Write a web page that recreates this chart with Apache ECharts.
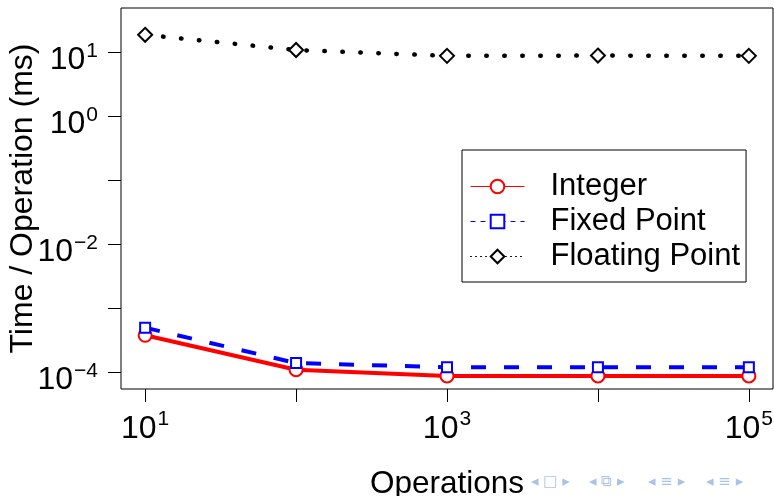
<!DOCTYPE html>
<html>
<head>
<meta charset="utf-8">
<script src="https://cdn.jsdelivr.net/npm/echarts@6/dist/echarts.min.js"></script>
<style>
html,body{margin:0;padding:0;background:#fff;}
#chart{width:774px;height:496px;}
</style>
</head>
<body>
<div id="chart"></div>
<script>
// Data
var operations = [10, 100, 1000, 10000, 100000];
var integerTimes = [3.8e-4, 1.1e-4, 8.8e-5, 8.8e-5, 8.8e-5];
var fixedTimes = [5.0e-4, 1.4e-4, 1.2e-4, 1.2e-4, 1.2e-4];
var floatingTimes = [19, 11, 8.9, 9.0, 8.9];
var seriesNames = ['Integer', 'Fixed Point', 'Floating Point'];
var xTickExponents = [1, 2, 3, 4, 5];
var xLabelExponents = [1, 3, 5];
var yTickExponents = [-4, -3, -2, -1, 0, 1];
var yLabelExponents = [-4, -2, 0, 1];

var FONT = '"Liberation Sans", Arial, Helvetica, sans-serif';

function pairs(xs, ys) {
  return xs.map(function (x, i) { return [Math.log10(x), Math.log10(ys[i])]; });
}
function powLabel(v) {
  var e = Math.round(v);
  var s = e < 0 ? '\u2212' + Math.abs(e) : String(e);
  return '{b|10}{s|' + s + '}';
}
var rich = {
  b: { fontSize: 32, fontFamily: FONT, color: '#000', lineHeight: 36, verticalAlign: 'bottom' },
  s: { fontSize: 21, fontFamily: FONT, color: '#000', lineHeight: 36, verticalAlign: 'top', padding: [0, 0, 0, 1] }
};

var chart = echarts.init(document.getElementById('chart'), null, { renderer: 'canvas' });
chart.setOption({
  animation: false,
  backgroundColor: '#fff',
  grid: { left: 121, top: 8, right: 1, bottom: 107, containLabel: false, outerBoundsMode: 'none', show: true, borderColor: '#000', borderWidth: 1, backgroundColor: 'transparent' },
  xAxis: {
    type: 'value',
    min: 0.84, max: 5.16,
    name: 'Operations',
    nameLocation: 'middle',
    nameGap: 79,
    nameMoveOverlap: false,
    nameTextStyle: { fontSize: 31.5, fontFamily: FONT, color: '#000' },
    axisLine: { show: false, onZero: false },
    splitLine: { show: false },
    axisTick: { show: true, length: 13, inside: false, customValues: xTickExponents, lineStyle: { color: '#000', width: 1 } },
    axisLabel: { show: true, margin: 20, customValues: xLabelExponents, formatter: powLabel, rich: rich }
  },
  yAxis: {
    type: 'value',
    min: -4.26, max: 1.698,
    name: 'Time / Operation (ms)',
    nameLocation: 'middle',
    nameGap: 82,
    nameMoveOverlap: false,
    nameTextStyle: { fontSize: 32, fontFamily: FONT, color: '#000' },
    axisLine: { show: false, onZero: false },
    splitLine: { show: false },
    axisTick: { show: true, length: 13, inside: false, customValues: yTickExponents, lineStyle: { color: '#000', width: 1 } },
    axisLabel: { show: true, margin: 23, padding: [12, 0, 0, 0], customValues: yLabelExponents, formatter: powLabel, rich: rich }
  },
  legend: {
    orient: 'vertical',
    left: 462, top: 150,
    backgroundColor: '#fff',
    borderColor: '#000', borderWidth: 1, borderRadius: 0,
    padding: [19, 6, 8, 8],
    itemWidth: 54, itemHeight: 17, itemGap: 0,
    textStyle: { fontSize: 31, fontFamily: FONT, color: '#000', padding: [0, 0, 0, 21], lineHeight: 35 },
    data: [
      { name: 'Integer', lineStyle: { width: 1, type: 'solid' }, itemStyle: { borderWidth: 1.3 } },
      { name: 'Fixed Point', lineStyle: { width: 1, type: [5, 5] }, itemStyle: { borderWidth: 1.3 } },
      { name: 'Floating Point', lineStyle: { width: 1, type: [1, 4] }, itemStyle: { borderWidth: 1.3 } }
    ]
  },
  series: [
    {
      name: seriesNames[0], type: 'line', data: pairs(operations, integerTimes),
      symbol: 'emptyCircle', symbolSize: 13,
      lineStyle: { color: '#ff0000', width: 4, type: 'solid' },
      itemStyle: { color: '#ff0000', borderColor: '#ff0000', borderWidth: 3 },
      z: 3
    },
    {
      name: seriesNames[1], type: 'line', data: pairs(operations, fixedTimes),
      symbol: 'emptyRect', symbolSize: 10,
      lineStyle: { color: '#0000ff', width: 4, type: [15, 18] },
      itemStyle: { color: '#0000ff', borderColor: '#0000ff', borderWidth: 3.5 },
      z: 4
    },
    {
      name: seriesNames[2], type: 'line', data: pairs(operations, floatingTimes),
      symbol: 'emptyDiamond', symbolSize: 14,
      lineStyle: { color: '#000', width: 4.5, type: [0.5, 17.5], cap: 'round' },
      itemStyle: { color: '#000', borderColor: '#000', borderWidth: 4 },
      z: 5
    }
  ],
  graphic: [
    { type: 'text', left: 531, top: 475, style: { text: '\u25C2 \u25A1 \u25B8', fontSize: 15, fontFamily: '"DejaVu Sans", sans-serif', fill: '#a9c3e6' } },
    { type: 'text', left: 589, top: 475, style: { text: '\u25C2 \u29C9 \u25B8', fontSize: 15, fontFamily: '"DejaVu Sans", sans-serif', fill: '#a9c3e6' } },
    { type: 'text', left: 648, top: 475, style: { text: '\u25C2 \u2261 \u25B8', fontSize: 15, fontFamily: '"DejaVu Sans", sans-serif', fill: '#a9c3e6' } },
    { type: 'text', left: 706, top: 475, style: { text: '\u25C2 \u2261 \u25B8', fontSize: 15, fontFamily: '"DejaVu Sans", sans-serif', fill: '#a9c3e6' } }
  ]
});
</script>
</body>
</html>
